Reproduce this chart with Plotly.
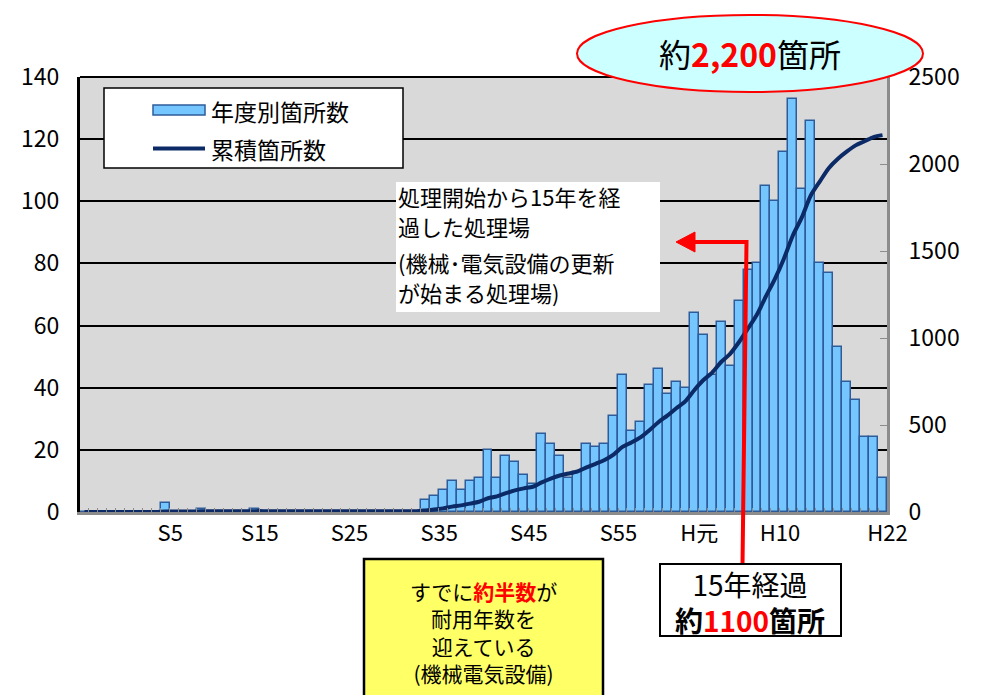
import numpy as np
import plotly.graph_objects as go

# Fiscal years T10 (1921) .. H22 (2010)
fiscal_years = (["T10", "T11", "T12", "T13", "T14"]
                + ["S%d" % n for n in range(1, 64)]
                + ["H元"] + ["H%d" % n for n in range(2, 23)])

# Treatment plants that started operation in each fiscal year
taisho_counts = [0, 0, 0, 0, 0]
showa_counts = [0, 0, 0, 0, 3, 0, 0, 0, 1, 0,          # S1 - S10
                0, 0, 0, 0, 1, 0, 0, 0, 0, 0,          # S11 - S20
                0, 0, 0, 0, 0, 0, 0, 0, 0, 0,          # S21 - S30
                0, 0, 0, 4, 5, 7, 10, 7, 10, 11,       # S31 - S40
                20, 11, 18, 16, 12, 9, 25, 22, 18, 11,  # S41 - S50
                13, 22, 21, 22, 31, 44, 26, 29, 41, 46,  # S51 - S60
                38, 42, 40]                             # S61 - S63
heisei_counts = [64, 57, 44, 61, 47, 68, 78, 80, 105, 100,   # H1 - H10
                 116, 133, 104, 126, 80, 77, 53, 42, 36, 24,  # H11 - H20
                 24, 11]                                      # H21 - H22
built_per_year = taisho_counts + showa_counts + heisei_counts
cumulative = np.cumsum(built_per_year)

shown_ticks = ["S5", "S15", "S25", "S35", "S45", "S55", "H元", "H10", "H22"]
tick_text = [fy if fy in shown_ticks else "" for fy in fiscal_years]

JP = "Noto Sans CJK JP"
W_FIG, H_FIG = 982, 695
L, T, W, H = 80, 77, 807, 435


def px(x):
    return (x - L) / W


def py(y):
    return (T + H - y) / H


fig = go.Figure()
fig.add_trace(go.Bar(
    x=fiscal_years, y=built_per_year, name="年度別箇所数",
    marker=dict(color="#75C6FF", line=dict(color="#2E5C9A", width=1.5)),
    showlegend=False,
))
fig.add_trace(go.Scatter(
    x=fiscal_years, y=cumulative, name="累積箇所数", yaxis="y2",
    mode="lines", line=dict(color="#0B2A66", width=4, shape="spline", smoothing=0.8),
    showlegend=False,
))

shapes = []
# top border of the plot area
shapes.append(dict(type="line", xref="paper", yref="paper", x0=0, x1=1, y0=1, y1=1,
                   line=dict(color="black", width=2)))
# legend
shapes.append(dict(type="rect", xref="paper", yref="paper", x0=px(104), x1=px(403),
                   y0=py(168), y1=py(88), fillcolor="white", line=dict(color="black", width=1.5)))
shapes.append(dict(type="rect", xref="paper", yref="paper", x0=px(153), x1=px(205),
                   y0=py(115), y1=py(105), fillcolor="#75C6FF", line=dict(color="#2E5C9A", width=1.5)))
shapes.append(dict(type="line", xref="paper", yref="paper", x0=px(153), x1=px(205),
                   y0=py(148.5), y1=py(148.5), line=dict(color="#0B2A66", width=4)))
# explanation box
shapes.append(dict(type="rect", xref="paper", yref="paper", x0=px(396), x1=px(660),
                   y0=py(312), y1=py(182), fillcolor="white", line=dict(width=0)))
# total callout ellipse
shapes.append(dict(type="circle", xref="paper", yref="paper", x0=px(577), x1=px(923),
                   y0=py(92), y1=py(15), fillcolor="#CCFFFF", line=dict(color="red", width=2)))
# yellow note
shapes.append(dict(type="rect", xref="paper", yref="paper", x0=px(364), x1=px(603),
                   y0=py(702), y1=py(559), fillcolor="#FFFF66", line=dict(color="black", width=2.5)))
# 15-year marker: elbow line + arrow head
shapes.append(dict(type="path", xref="paper", yref="paper",
                   path="M %f,%f L %f,%f L %f,%f" % (px(692), py(242), px(746.5), py(242),
                                                     px(742.5), py(565)),
                   line=dict(color="red", width=4)))
shapes.append(dict(type="path", xref="paper", yref="paper",
                   path="M %f,%f L %f,%f L %f,%f Z" % (px(676), py(242), px(695), py(232),
                                                       px(695), py(252)),
                   fillcolor="red", line=dict(color="red", width=1)))
shapes.append(dict(type="rect", xref="paper", yref="paper", x0=px(660), x1=px(841),
                   y0=py(636), y1=py(564), fillcolor="white", line=dict(color="black", width=2)))

annotations = []


def note(x, y, text, size, xanchor="left", align="left"):
    annotations.append(dict(xref="paper", yref="paper", x=px(x), y=py(y), text=text,
                            showarrow=False, xanchor=xanchor, yanchor="middle",
                            align=align, borderpad=0,
                            font=dict(family=JP, size=size, color="black")))


note(210, 111, "年度別箇所数", 23)
note(210, 149, "累積箇所数", 23)

note(397, 196, "処理開始から15年を経", 22)
note(397, 226, "過した処理場", 22)
note(397, 262, "(機械･電気設備の更新", 22)
note(397, 292, "が始まる処理場)", 22)

note(750, 53, "約<b><span style='color:red'>2,200</span></b>箇所", 32, xanchor="center")

note(483, 632,
     "すでに<b><span style='color:red'>約半数</span></b>が<br>耐用年数を<br>迎えている<br>(機械電気設備)",
     21, xanchor="center", align="center")

note(750, 602, "15年経過<br><b>約<span style='color:red'>1100</span>箇所</b>", 28,
     xanchor="center", align="center")

fig.update_layout(
    width=W_FIG, height=H_FIG,
    margin=dict(l=L, r=W_FIG - L - W, t=T, b=H_FIG - T - H, pad=0),
    paper_bgcolor="white", plot_bgcolor="#D9D9D9",
    bargap=0,
    font=dict(family=JP, color="black"),
    xaxis=dict(type="category", range=[-0.5, len(fiscal_years) - 0.5],
               tickvals=fiscal_years, ticktext=tick_text, tickson="boundaries",
               ticks="inside", ticklen=4, tickcolor="#8C8C8C", tickwidth=1,
               showline=True, linecolor="#8C8C8C", linewidth=3, showgrid=False,
               tickfont=dict(size=22, family=JP), tickangle=0, ticklabelshift=5),
    yaxis=dict(range=[0, 140], dtick=20, showgrid=True, gridcolor="black", gridwidth=2,
               showline=True, linecolor="black", linewidth=3, zeroline=False,
               ticks="", tickfont=dict(size=23, family=JP), ticklabelstandoff=13),
    yaxis2=dict(range=[0, 2500], dtick=500, overlaying="y", side="right",
                showgrid=False, zeroline=False, showline=True, linecolor="#8C8C8C",
                linewidth=3, ticks="inside", ticklen=7, tickcolor="#8C8C8C",
                tickfont=dict(size=23, family=JP), ticklabelstandoff=14),
    shapes=shapes,
    annotations=annotations,
)

fig.write_html("out.html")
